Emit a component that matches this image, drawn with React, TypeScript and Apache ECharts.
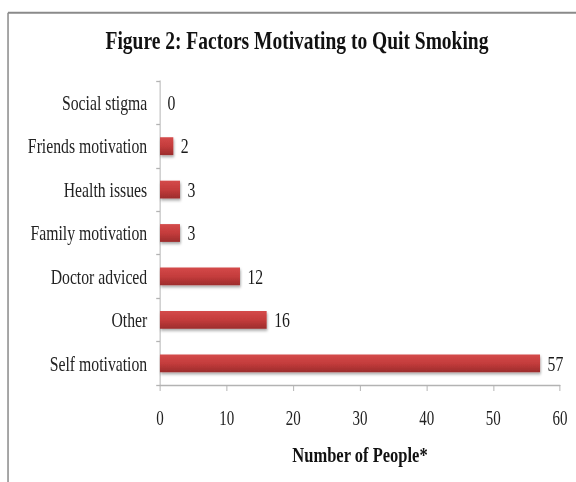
import { useEffect, useRef } from "react";
import * as echarts from "echarts";

// Survey answers: what motivated people to quit smoking
const categories = [
  "Social stigma",
  "Friends motivation",
  "Health issues",
  "Family motivation",
  "Doctor adviced",
  "Other",
  "Self motivation",
];
const counts = [0, 2, 3, 3, 12, 16, 57];

const titleText = "Figure 2: Factors Motivating to Quit Smoking";
const axisTitle = "Number of People*";
const axisMin = 0;
const axisMax = 60;
const axisStep = 10;

// The chart is laid out on a wider canvas and squeezed horizontally,
// which gives the narrow Times-like lettering.
const SQUEEZE = 0.75;
const VIEW_W = 576;
const VIEW_H = 482;
const CANVAS_W = VIEW_W / SQUEEZE;

const SERIF = '"Liberation Serif", "Times New Roman", serif';

export default function App() {
  const ref = useRef<HTMLDivElement>(null);

  useEffect(() => {
    if (!ref.current) return;
    const chart = echarts.init(ref.current, undefined, { renderer: "svg" });
    chart.setOption({
      animation: false,
      backgroundColor: "#ffffff",
      graphic: [
        {
          type: "line",
          shape: { x1: 10.7, y1: 12.7, x2: CANVAS_W, y2: 12.7 },
          style: { stroke: "#8a8a8a", lineWidth: 2 },
        },
        {
          type: "line",
          shape: { x1: 10.7, y1: 12.7, x2: 10.7, y2: VIEW_H },
          style: { stroke: "#8a8a8a", lineWidth: 2 },
        },
        {
          type: "text",
          x: 396,
          y: 41,
          style: {
            text: titleText,
            fontFamily: SERIF,
            fontWeight: "bold",
            fontSize: 26,
            fill: "#111111",
            align: "center",
            verticalAlign: "middle",
          },
        },
      ],
      grid: {
        left: 213.3,
        right: CANVAS_W - 746.7,
        top: 81,
        bottom: VIEW_H - 385,
        containLabel: false,
      },
      xAxis: {
        type: "value",
        min: axisMin,
        max: axisMax,
        interval: axisStep,
        name: axisTitle,
        nameLocation: "middle",
        nameGap: 59,
        nameTextStyle: {
          fontFamily: SERIF,
          fontWeight: "bold",
          fontSize: 22,
          color: "#111111",
        },
        axisLine: { show: true, lineStyle: { color: "#b3b3b3", width: 1.3 } },
        axisTick: { show: true, length: 6, lineStyle: { color: "#b3b3b3", width: 1.3 } },
        splitLine: { show: false },
        axisLabel: {
          margin: 23,
          fontFamily: SERIF,
          fontSize: 20,
          color: "#222222",
        },
      },
      yAxis: {
        type: "category",
        data: categories,
        inverse: true,
        axisLine: { show: true, lineStyle: { color: "#b3b3b3", width: 1.3 } },
        axisTick: { show: true, length: 5, lineStyle: { color: "#b3b3b3", width: 1.3 } },
        axisLabel: {
          margin: 17,
          fontFamily: SERIF,
          fontSize: 21,
          color: "#222222",
        },
      },
      series: [
        {
          type: "bar",
          data: counts,
          barCategoryGap: "59%",
          itemStyle: {
            color: new echarts.graphic.LinearGradient(0, 0, 0, 1, [
              { offset: 0, color: "#d44a4a" },
              { offset: 0.5, color: "#c43c3c" },
              { offset: 1, color: "#9c2c2c" },
            ]),
            shadowColor: "rgba(0,0,0,0.35)",
            shadowBlur: 3,
            shadowOffsetX: 1,
            shadowOffsetY: 2,
          },
          label: {
            show: true,
            position: "right",
            distance: 10,
            fontFamily: SERIF,
            fontSize: 21,
            color: "#1a1a1a",
          },
        },
      ],
    });
    return () => chart.dispose();
  }, []);

  return (
    <div
      style={{
        position: "fixed",
        left: 0,
        top: 0,
        width: VIEW_W,
        height: VIEW_H,
        overflow: "hidden",
        background: "#ffffff",
      }}
    >
      <div
        ref={ref}
        style={{
          width: CANVAS_W,
          height: VIEW_H,
          transform: `scaleX(${SQUEEZE})`,
          transformOrigin: "0 0",
        }}
      />
    </div>
  );
}
